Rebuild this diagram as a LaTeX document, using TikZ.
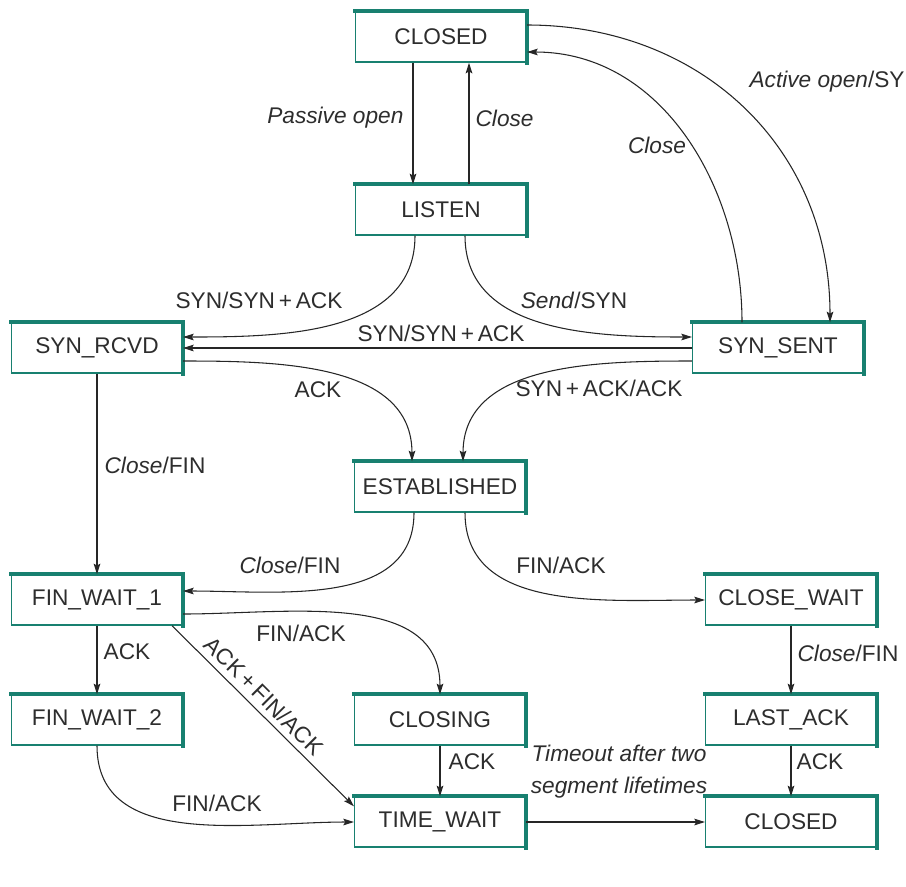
\documentclass[tikz,border=0pt]{standalone}
\usepackage{fontspec}
\setmainfont{Liberation Sans}
\usetikzlibrary{calc,arrows.meta}
\definecolor{boxteal}{RGB}{24,128,112}
\definecolor{wire}{RGB}{38,38,38}
\definecolor{ink}{RGB}{45,45,45}
\newcommand{\plus}{\,+\,}
\begin{document}
\begin{tikzpicture}[x=0.75pt,y=0.75pt,
  font=\fontsize{17}{20}\selectfont,
  rim/.style={draw=boxteal,line width=2.8pt,line cap=rect,-},
  state/.style={draw=boxteal,line width=1.1pt,fill=white,text=ink,
    minimum width=128pt,minimum height=37.5pt,inner sep=0pt,
    append after command={
      (\tikzlastnode.north west) edge[rim] (\tikzlastnode.north east)
      (\tikzlastnode.north east) edge[rim] (\tikzlastnode.south east)}},
  arr/.style={draw=wire,line width=0.8pt,-{Stealth[length=8pt,width=5pt,inset=1.5pt]}},
  lbl/.style={text=ink,inner sep=1pt}]
\useasboundingbox (0,0) rectangle (906,-886);
\clip (0,0) rectangle (906,-886);

% states
\node[state] (closedA) at (441,-37)  {CLOSED};
\node[state] (listen)  at (441,-210) {LISTEN};
\node[state] (synrcvd) at (97,-348)  {SYN\_RCVD};
\node[state] (synsent) at (778,-348) {SYN\_SENT};
\node[state] (estab)   at (440,-487) {ESTABLISHED};
\node[state] (finwa)   at (97,-600)  {FIN\_WAIT\_1};
\node[state] (closew)  at (791,-600) {CLOSE\_WAIT};
\node[state] (finwb)   at (97,-720)  {FIN\_WAIT\_2};
\node[state] (closing) at (440,-720) {CLOSING};
\node[state] (lastack) at (791,-720) {LAST\_ACK};
\node[state] (timew)   at (440,-822) {TIME\_WAIT};
\node[state] (closedB) at (791,-822) {CLOSED};

% transitions
\draw[arr] ($(closedA.south)+(-28,0)$) -- ($(listen.north)+(-28,0)$);
\draw[arr] ($(listen.north)+(28,0)$) -- ($(closedA.south)+(28,0)$);
\draw[arr] ($(closedA.east)+(0,12)$) to[out=0,in=90,looseness=1.05] ($(synsent.north)+(52,0)$);
\draw[arr] ($(synsent.north)+(-36,0)$) to[out=90,in=0] ($(closedA.east)+(0,-15)$);
\draw[arr] ($(listen.south)+(-26,0)$) to[out=-90,in=0] ($(synrcvd.east)+(0,11)$);
\draw[arr] ($(listen.south)+(24,0)$) to[out=-90,in=180] ($(synsent.west)+(0,11)$);
\draw[arr] (synsent.west) -- (synrcvd.east);
\draw[arr] ($(synrcvd.east)+(0,-13)$) to[out=0,in=90] ($(estab.north)+(-28,0)$);
\draw[arr] ($(synsent.west)+(0,-13)$) to[out=180,in=90] ($(estab.north)+(23,0)$);
\draw[arr] (synrcvd.south) -- (finwa.north);
\draw[arr] ($(estab.south)+(-26,0)$) to[out=-90,in=0] ($(finwa.east)+(0,9)$);
\draw[arr] ($(estab.south)+(25,0)$) to[out=-90,in=180] (closew.west);
\draw[arr] ($(finwa.east)+(0,-14)$) to[out=0,in=90] (closing.north);
\draw[arr] ($(finwa.south east)+(-11,0)$) -- ($(timew.north west)+(0,-10)$);
\draw[arr] (finwa.south) -- (finwb.north);
\draw[arr] (finwb.south) to[out=-90,in=180] (timew.west);
\draw[arr] (closing.south) -- (timew.north);
\draw[arr] (timew.east) -- (closedB.west);
\draw[arr] (closew.south) -- (lastack.north);
\draw[arr] (lastack.south) -- (closedB.north);

% transition labels
\node[lbl,anchor=east] (tPassive) at (405,-118) {\itshape Passive open};
\node[lbl,anchor=west] (tCloseA) at (474,-118) {\itshape Close};
\node[lbl,anchor=west] (tActive) at (748,-82) {\textit{Active open}/SYN};
\node[lbl] (tCloseB) at (657,-145) {\itshape Close};
\node[lbl] (tSynL) at (259,-300) {SYN/SYN\plus ACK};
\node[lbl] (tSend) at (574,-300) {\textit{Send}/SYN};
\node[lbl] (tSynM) at (441,-333) {SYN/SYN\plus ACK};
\node[lbl] (tAckA) at (318,-390) {ACK};
\node[lbl] (tSynAck) at (599,-388) {SYN\plus ACK/ACK};
\node[lbl] (tCloseC) at (155,-465) {\textit{Close}/FIN};
\node[lbl] (tCloseD) at (290,-565) {\textit{Close}/FIN};
\node[lbl] (tFinA) at (561,-565) {FIN/ACK};
\node[lbl] (tFinB) at (301,-633) {FIN/ACK};
\node[lbl] (tAckB) at (127,-652) {ACK};
\node[lbl,rotate=-45] (tAckFin) at (264,-696) {ACK\plus FIN/ACK};
\node[lbl] (tFinC) at (217,-803) {FIN/ACK};
\node[lbl] (tAckC) at (472,-762) {ACK};
\node[lbl,align=center,font=\fontsize{17}{24}\selectfont\itshape] (tTimeout) at (619,-772) {Timeout after two\\segment lifetimes};
\node[lbl] (tCloseE) at (848,-653) {\textit{Close}/FIN};
\node[lbl] (tAckD) at (820,-762) {ACK};
\end{tikzpicture}
\end{document}
